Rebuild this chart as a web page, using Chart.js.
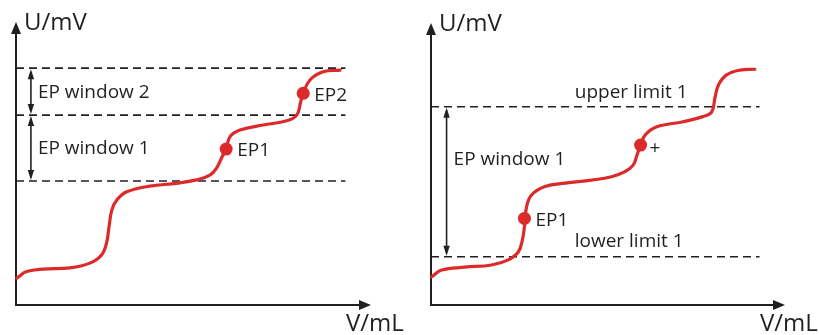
<!DOCTYPE html>
<html lang="en">
<head>
<meta charset="UTF-8">
<title>EP window / limits</title>
<script src="https://cdn.jsdelivr.net/npm/chart.js"></script>
<style>
  body { margin: 0; background: #fff; }
  canvas { position: absolute; top: 0; }
</style>
</head>
<body>
<canvas id="leftChart" width="410" height="335" style="left:0"></canvas>
<canvas id="rightChart" width="409" height="335" style="left:410px"></canvas>

<script>
// both axes in relative units 0..100 (no tick marks in the figure)
const leftVolume    = [0.2, 3.0, 7.6, 15.2, 20.8, 24.1, 25.5, 26.2, 27.0, 28.4, 31.2, 37.7, 45.3, 50.9, 54.6, 56.5, 58.3, 59.2, 60.3, 63.1, 69.6, 76.3, 79.1, 80.2, 80.9, 82.8, 86.5, 91.3];
const leftPotential = [9.5, 11.8, 12.7, 13.1, 14.8, 17.7, 21.9, 27.6, 33.6, 37.1, 40.0, 42.0, 43.0, 44.2, 45.9, 48.4, 53.0, 55.1, 59.5, 61.8, 63.6, 65.1, 67.1, 71.8, 74.8, 79.5, 82.4, 83.0];
const leftEpVolume    = [59.2, 80.9];
const leftEpPotential = [55.1, 74.8];
const leftEpLabels    = ['EP1', 'EP2'];
const leftWindowLevels = [43.8, 67.1, 83.7];
const leftWindowLabels = ['EP window 1', 'EP window 2'];

const rightVolume    = [0.2, 3.0, 9.6, 17.1, 21.8, 24.7, 25.8, 26.4, 27.0, 28.4, 32.2, 37.9, 45.4, 51.0, 54.8, 57.1, 58.2, 59.2, 60.5, 63.8, 71.2, 76.8, 79.3, 80.2, 81.2, 83.5, 87.3, 91.5];
const rightPotential = [10.0, 12.4, 13.4, 14.2, 16.0, 18.9, 23.0, 27.8, 34.9, 39.0, 42.0, 43.2, 44.3, 45.5, 47.3, 49.6, 53.2, 56.7, 60.3, 63.2, 65.0, 66.8, 68.5, 73.4, 78.0, 81.6, 83.3, 83.6];
const rightEpVolume    = [26.4, 59.2];
const rightEpPotential = [30.7, 56.7];
const rightEpLabels    = ['EP1', '+'];
const rightLimitLevels = [17.1, 70.3];
const rightLimitLabels = ['lower limit 1', 'upper limit 1'];
const rightWindowLabel = 'EP window 1';

const lineEnd = 92.8;
const axisLabels = ['V/mL', 'U/mV'];

const ink = '#231f20';
const red = '#dc2a2a';
const font = '"Open Sans", "DejaVu Sans", sans-serif';

function arrowHead(ctx, x, y, dir, len, half) {
  ctx.beginPath();
  ctx.moveTo(x, y);
  if (dir === 'up')    { ctx.lineTo(x - half, y + len); ctx.lineTo(x + half, y + len); }
  if (dir === 'down')  { ctx.lineTo(x - half, y - len); ctx.lineTo(x + half, y - len); }
  if (dir === 'right') { ctx.lineTo(x - len, y - half); ctx.lineTo(x - len, y + half); }
  ctx.closePath();
  ctx.fill();
}

function doubleArrow(ctx, x, yTop, yBottom) {
  ctx.lineWidth = 1.6;
  ctx.beginPath();
  ctx.moveTo(x, yTop + 4);
  ctx.lineTo(x, yBottom - 4);
  ctx.stroke();
  arrowHead(ctx, x, yTop + 1, 'up', 10, 3.2);
  arrowHead(ctx, x, yBottom - 1, 'down', 10, 3.2);
}

function toPoints(xs, ys) {
  return xs.map((x, i) => ({ x: x, y: ys[i] }));
}

function dashed(level) {
  return {
    data: [{ x: 0, y: level }, { x: lineEnd, y: level }],
    borderColor: ink, borderWidth: 1.6, borderDash: [8, 5],
    pointRadius: 0, order: 3
  };
}

// axes with arrows + titles, then the free text
function decor(drawText) {
  return {
    id: 'decor',
    beforeDatasetsDraw(chart) {
      const ctx = chart.ctx, a = chart.chartArea;
      ctx.save();
      ctx.strokeStyle = ink; ctx.fillStyle = ink; ctx.lineWidth = 2;
      ctx.beginPath();
      ctx.moveTo(a.left, a.top + 8);
      ctx.lineTo(a.left, a.bottom);
      ctx.lineTo(a.right - 8, a.bottom);
      ctx.stroke();
      arrowHead(ctx, a.left, a.top, 'up', 12, 5);
      arrowHead(ctx, a.right, a.bottom, 'right', 12, 5);
      ctx.font = '24px ' + font;
      ctx.textBaseline = 'alphabetic';
      ctx.fillText(axisLabels[1], a.left + 8, a.top + 8);
      ctx.fillText(axisLabels[0], a.right - 25, a.bottom + 26);
      ctx.restore();
    },
    afterDatasetsDraw(chart) {
      const ctx = chart.ctx;
      ctx.save();
      ctx.strokeStyle = ink; ctx.fillStyle = ink;
      drawText(chart, ctx, chart.scales.x, chart.scales.y);
      ctx.restore();
    }
  };
}

function makeChart(id, padding, datasets, drawText) {
  return new Chart(document.getElementById(id), {
    type: 'line',
    data: { datasets: datasets },
    options: {
      responsive: false,
      animation: false,
      events: [],
      layout: { padding: padding },
      scales: {
        x: { type: 'linear', min: 0, max: 100, display: false },
        y: { type: 'linear', min: 0, max: 100, display: false }
      },
      plugins: { legend: { display: false }, tooltip: { enabled: false } }
    },
    plugins: [decor(drawText)]
  });
}

function curveSet(xs, ys) {
  return {
    data: toPoints(xs, ys), borderColor: red, borderWidth: 3.2,
    pointRadius: 0, tension: 0.4, clip: false, order: 2,
    borderCapStyle: 'round', borderJoinStyle: 'round'
  };
}

function markerSet(xs, ys) {
  return {
    data: toPoints(xs, ys), showLine: false, pointRadius: 6.5,
    pointBackgroundColor: red, pointBorderWidth: 0, clip: false, order: 1
  };
}

makeChart('leftChart', { left: 16, right: 39, top: 22, bottom: 30 },
  [markerSet(leftEpVolume, leftEpPotential), curveSet(leftVolume, leftPotential)]
    .concat(leftWindowLevels.map(dashed)),
  (chart, ctx, xs, ys) => {
    const ax = xs.getPixelForValue(4.2);
    ctx.font = '19px ' + font;
    ctx.textBaseline = 'middle';
    for (let i = 0; i < leftWindowLabels.length; i++) {
      const y0 = ys.getPixelForValue(leftWindowLevels[i + 1]);
      const y1 = ys.getPixelForValue(leftWindowLevels[i]);
      doubleArrow(ctx, ax, y0, y1);
      ctx.fillText(leftWindowLabels[i], ax + 7, (y0 + y1) / 2 + 1);
    }
    leftEpLabels.forEach((t, i) => {
      ctx.fillText(t, xs.getPixelForValue(leftEpVolume[i]) + 11, ys.getPixelForValue(leftEpPotential[i]) + 2);
    });
  });

makeChart('rightChart', { left: 21, right: 34, top: 23, bottom: 30 },
  [markerSet(rightEpVolume, rightEpPotential), curveSet(rightVolume, rightPotential)]
    .concat(rightLimitLevels.map(dashed)),
  (chart, ctx, xs, ys) => {
    const ax = xs.getPixelForValue(4.4);
    const yUp = ys.getPixelForValue(rightLimitLevels[1]);
    const yLo = ys.getPixelForValue(rightLimitLevels[0]);
    ctx.font = '19px ' + font;
    ctx.textBaseline = 'middle';
    doubleArrow(ctx, ax, yUp, yLo);
    ctx.fillText(rightWindowLabel, ax + 7, yUp + 53);
    const lx = xs.getPixelForValue(40.6);
    ctx.fillText(rightLimitLabels[1], lx, yUp - 14);
    ctx.fillText(rightLimitLabels[0], lx, yLo - 15);
    rightEpLabels.forEach((t, i) => {
      const dx = t === '+' ? 9 : 11;
      const dy = t === '+' ? 3 : 2;
      ctx.fillText(t, xs.getPixelForValue(rightEpVolume[i]) + dx, ys.getPixelForValue(rightEpPotential[i]) + dy);
    });
  });
</script>
</body>
</html>
